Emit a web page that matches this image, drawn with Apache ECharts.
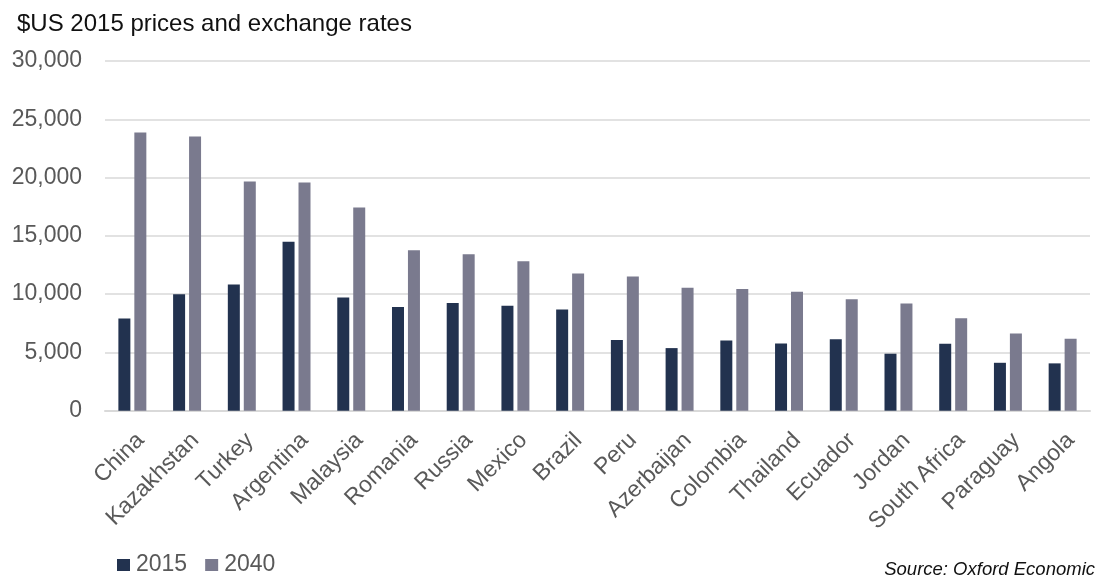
<!DOCTYPE html>
<html>
<head>
<meta charset="utf-8">
<script src="https://cdn.jsdelivr.net/npm/echarts@6/dist/echarts.min.js"></script>
<style>
html,body{margin:0;padding:0;background:#fff;}
#chart{width:1095px;height:576px;}
</style>
</head>
<body>
<div id="chart"></div>
<script>
const categories = ["China","Kazakhstan","Turkey","Argentina","Malaysia","Romania","Russia","Mexico","Brazil","Peru","Azerbaijan","Colombia","Thailand","Ecuador","Jordan","South Africa","Paraguay","Angola"];
const values2015 = [7920,9980,10830,14490,9720,8890,9230,9000,8690,6060,5370,6030,5770,6140,4890,5740,4110,4060];
const values2040 = [23860,23520,19660,19580,17430,13770,13430,12830,11780,11520,10540,10430,10200,9570,9200,7940,6630,6170];
const yTicks = {min:0, max:30000, interval:5000};
const seriesNames = ["2015","2040"];
const titleText = "$US 2015 prices and exchange rates";
const sourceText = "Source: Oxford Economic";

const FONT = "'Liberation Sans', Arial, sans-serif";
const chart = echarts.init(document.getElementById('chart'), null, {renderer:'canvas'});
chart.setOption({
  animation:false,
  backgroundColor:'#ffffff',
  title:{
    text:titleText, left:12, top:7,
    textStyle:{fontFamily:FONT, fontSize:24, fontWeight:'normal', color:'#111111'}
  },
  legend:{
    data:seriesNames, left:117, top:553.5, padding:0, icon:'rect',
    itemWidth:13, itemHeight:12, itemGap:18,
    textStyle:{fontFamily:FONT, fontSize:23, color:'#595959', padding:[0,0,0,1]}
  },
  grid:{left:105, right:5, top:61, bottom:165.3, containLabel:false},
  xAxis:{
    type:'category', data:categories,
    axisLine:{lineStyle:{color:'#d9d9d9', width:2}},
    axisTick:{show:false},
    axisLabel:{rotate:45, interval:0, margin:18, verticalAlign:'top', align:'right',
      fontFamily:FONT, fontSize:23, color:'#595959'}
  },
  yAxis:{
    type:'value', min:yTicks.min, max:yTicks.max, interval:yTicks.interval,
    axisLine:{show:false}, axisTick:{show:false},
    splitLine:{lineStyle:{color:'#d9d9d9', width:1.5}},
    axisLabel:{margin:23, fontFamily:FONT, fontSize:23, color:'#595959',
      formatter:v=>v.toLocaleString('en-US')}
  },
  series:[
    {name:seriesNames[0], type:'bar', data:values2015, barWidth:12, barGap:'33%',
     itemStyle:{color:'#22324f'}},
    {name:seriesNames[1], type:'bar', data:values2040, barWidth:12, barGap:'33%',
     itemStyle:{color:'#7a7a8e'}}
  ],
  graphic:[{
    type:'text', right:0, top:560,
    style:{text:sourceText, fontFamily:FONT, fontSize:18.5, fontStyle:'italic', fill:'#111111'}
  }]
});
</script>
</body>
</html>
